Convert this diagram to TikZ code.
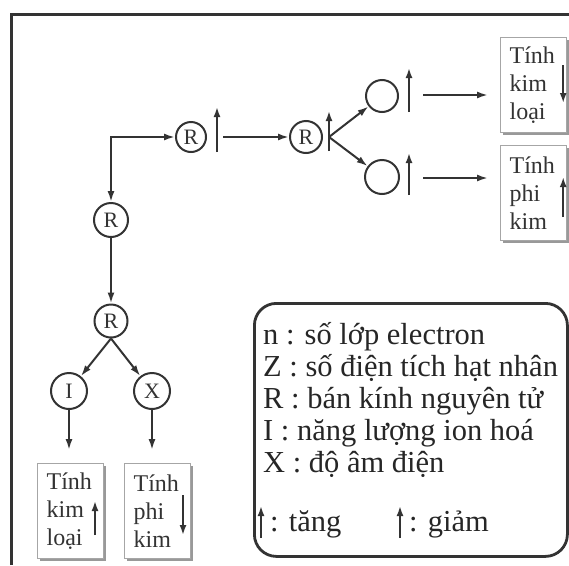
\documentclass[tikz,border=0pt]{standalone}
\usepackage{fontspec}
\setmainfont{Liberation Serif}
\usetikzlibrary{arrows.meta, positioning, calc, shadows}
\definecolor{ink}{HTML}{333333}
\tikzset{
    arr/.style = {draw=ink, line width=2pt, -{Latex[length=11pt,width=7pt]}},
    dbl/.style = {draw=ink, line width=2pt, {Latex[length=11pt,width=7pt]}-{Latex[length=11pt,width=7pt]}},
    ind/.style = {draw=ink, line width=1.9pt, -{Latex[length=10pt,width=7pt]}}, % small up/down arrows
    rc/.style = {circle, draw=ink, line width=2pt, minimum size=32pt, inner sep=0pt, text=ink, font=\fontsize{22}{22}\selectfont},
    tbox/.style = {rectangle, draw=gray!70, line width=1.2pt, fill=white,
        drop shadow={shadow xshift=2.5pt, shadow yshift=-2.5pt, fill=gray!80, opacity=1},
        text width=48pt, inner xsep=9pt, minimum height=95pt, align=left, anchor=north west,
        text=ink, font=\fontsize{24}{28}\selectfont},
    legbox/.style = {rectangle, draw=ink, line width=2.8pt, rounded corners=22pt, anchor=north west,
        minimum width=313pt, minimum height=253pt},
    leg/.style = {anchor=base west, inner sep=0pt, text=black!85, font=\fontsize{30.5}{32}\selectfont}
}
\begin{document}
\begin{tikzpicture}[x=1pt, y=-1pt]
\useasboundingbox (0,0) rectangle (569,565);
% frame
\draw[draw=ink, line width=3pt] (11,565) -- (11,14) -- (569,14);

% circles
\node[rc, minimum size=30pt] (R1) at (191,137) {R};
\node[rc] (R2) at (306,137) {R};
\node[rc] (up) at (382,96) {};
\node[rc, minimum size=34pt] (lo) at (382,177) {};
\node[rc, minimum size=34pt] (R3) at (111,220) {R};
\node[rc, minimum size=33pt] (R4) at (111,321) {R};
\node[rc, minimum size=36pt] (I) at (69,391) {I};
\node[rc, minimum size=36pt] (X) at (152,391) {X};

% boxes
\node[tbox] (boxKL) at (500,37) {Tính\\kim\\loại};
\node[tbox] (boxPK) at (500,145) {Tính\\phi\\kim};
\node[tbox] (boxKLb) at (37,463) {Tính\\kim\\loại};
\node[tbox] (boxPKb) at (124,463) {Tính\\phi\\kim};

\coordinate (t1) at (217,137);
\coordinate (t2) at (329,137);
\coordinate (t3) at (409,95);
\coordinate (t4) at (409,178);
\draw[ind] ([yshift=-15pt]t1) -- ++(0,-45);
\draw[ind] ([yshift=-14pt]t2) -- ++(0,-40);
\draw[ind] ([yshift=-17pt]t3) -- ++(0,-44);
\draw[ind] ([yshift=-17pt]t4) -- ++(0,-42);
\draw[ind] ($(boxKL.north east)+(-4,28)$) -- ++(0,38);
\draw[ind] ($(boxPK.north east)+(-4,72)$) -- ++(0,-40);
\draw[ind] ($(boxKLb.north west)+(58,72)$) -- ++(0,-34);
\draw[ind] ($(boxPKb.north west)+(59,32)$) -- ++(0,40);

% connectors
\draw[dbl] (R3) |- (R1);
\draw[arr] ([xshift=6pt]t1) -- (R2);
\draw[arr] (t2) -- (up);
\draw[arr] (t2) -- (lo);
\draw[arr, shorten >=12pt] ([xshift=14pt]t3) -- (t3 -| boxKL.west);
\draw[arr, shorten >=12pt] ([xshift=14pt]t4) -- (t4 -| boxPK.west);
\draw[arr] (R3) -- (R4);
\draw[arr] (R4.south) -- (I);
\draw[arr] (R4.south) -- (X);
\draw[arr, shorten >=13pt] (I) -- (I |- boxKLb.north);
\draw[arr, shorten >=13pt] (X) -- (X |- boxPKb.north);

% legend
\node[legbox] (leg) at (253,302) {};
\foreach \t [count=\i] in {n : số lớp electron, Z : số điện tích hạt nhân, R : bán kính nguyên tử, I : năng lượng ion hoá, X : độ âm điện}
    \node[leg] (l\i) at (263,312+32*\i) {\t};
\node[leg] (tang) at (270,531) {: tăng};
\node[leg] (giam) at (409,531) {: giảm};
\draw[ind] ([xshift=-9pt,yshift=-7pt]tang.base west) -- ++(0,-32);
\draw[ind] ([xshift=-9pt,yshift=-7pt]giam.base west) -- ++(0,-32);
\end{tikzpicture}
\end{document}
